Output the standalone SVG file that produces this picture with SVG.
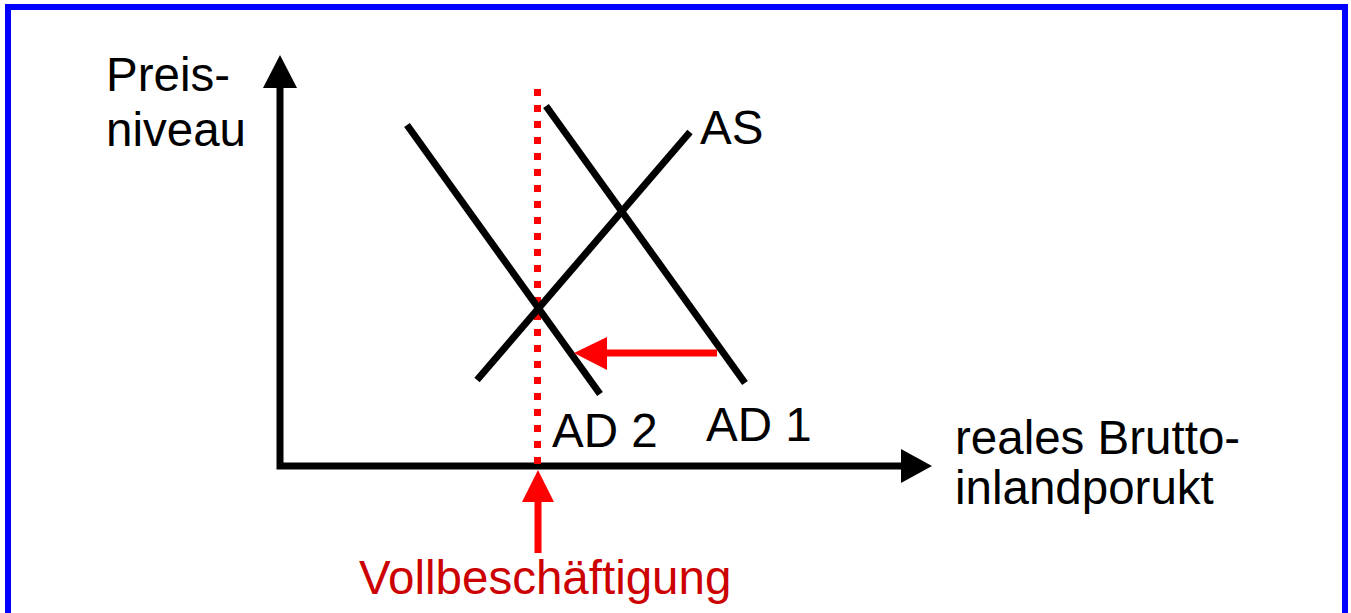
<svg xmlns="http://www.w3.org/2000/svg" width="1351" height="613" viewBox="0 0 1351 613">
<style>
text{font-family:"Liberation Sans",Arial,sans-serif;font-size:47.5px;fill:#000}
.red{fill:#cc0000}
.curve{stroke:#000;stroke-width:7;fill:none}
.axis{stroke:#000;stroke-width:7;fill:none}
.rl{stroke:#ff0000;stroke-width:7;fill:none}
</style>
<rect x="8" y="7" width="1337" height="700" fill="#fff" stroke="#0000ff" stroke-width="6"/>
<g id="axes">
<path class="axis" d="M280,87 V466 H903"/>
<polygon points="280,55 263,88 297,88" fill="#000"/>
<polygon points="932,466 901,449 901,483" fill="#000"/>
</g>
<g id="fullemployment-line">
<line x1="537.5" y1="89" x2="537.5" y2="466" stroke="#ff0000" stroke-width="7" stroke-dasharray="7 9"/>
</g>
<g id="AS">
<line class="curve" x1="477" y1="380" x2="690" y2="132"/>
<text x="700" y="144">AS</text>
</g>
<g id="AD2">
<line class="curve" x1="407" y1="125" x2="600" y2="394"/>
<text x="552" y="447">AD 2</text>
</g>
<g id="AD1">
<line class="curve" x1="546" y1="106" x2="745" y2="383"/>
<text x="706" y="441">AD 1</text>
</g>
<g id="connectors">
<line class="rl" x1="717" y1="353" x2="604" y2="353"/>
<polygon points="574,353 607,337 607,370" fill="#ff0000"/>
<line class="rl" x1="538" y1="553" x2="538" y2="500"/>
<polygon points="538,470 522,502 554,502" fill="#ff0000"/>
</g>
<g id="label-y">
<text x="106" y="91">Preis-</text>
<text x="106" y="146">niveau</text>
</g>
<g id="label-x">
<text x="955" y="454">reales Brutto-</text>
<text x="955" y="504">inlandporukt</text>
</g>
<g id="label-full">
<text class="red" x="359" y="594">Vollbeschäftigung</text>
</g>
</svg>
